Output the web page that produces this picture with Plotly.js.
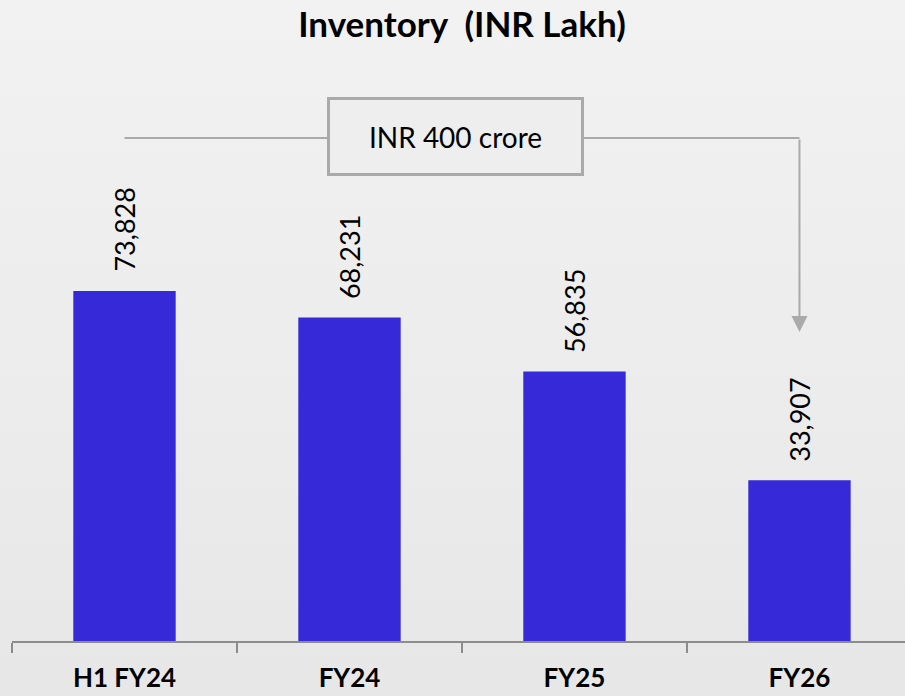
<!DOCTYPE html>
<html>
<head>
<meta charset="utf-8">
<script src="https://cdn.plot.ly/plotly-3.0.1.min.js"></script>
<style>html,body{margin:0;padding:0;background:#ececec;}#chart{width:905px;height:696px;}</style>
</head>
<body>
<div id="chart"></div>
<script>
const categories = ["H1 FY24", "FY24", "FY25", "FY26"];
const inventory = [73828, 68231, 56835, 33907];
const valueLabels = ["73,828", "68,231", "56,835", "33,907"];
const chartTitle = "Inventory  (INR Lakh)";
const calloutText = "INR 400 crore";
const calloutLevel = 106100;
const arrowTipLevel = 65200;

const barColor = "#3529d8";
const lineColor = "#aaaaaa";
const fontFam = "Lato, 'Open Sans', sans-serif";

const W = 905, H = 696;
const M = {l: 12, r: 0, t: 40, b: 55};
const plotW = W - M.l - M.r, plotH = H - M.t - M.b;

const bgSvg = '<svg xmlns="http://www.w3.org/2000/svg" width="100" height="100" viewBox="0 0 100 100" preserveAspectRatio="none">' +
  '<defs><linearGradient id="g" x1="0" y1="0" x2="0" y2="1">' +
  '<stop offset="0" stop-color="#f2f2f2"/><stop offset="1" stop-color="#e7e7e7"/></linearGradient></defs>' +
  '<rect width="100" height="100" fill="url(#g)"/></svg>';
const bgSrc = "data:image/svg+xml;charset=utf-8," + encodeURIComponent(bgSvg);

const trace = {
  type: "bar",
  x: categories,
  y: inventory,
  marker: {color: barColor},
  width: 0.455,
  hoverinfo: "skip"
};

const valueAnnotations = categories.map((c, i) => ({
  x: c, y: inventory[i], xref: "x", yref: "y",
  text: valueLabels[i], showarrow: false, textangle: -90,
  yanchor: "bottom", xanchor: "center", yshift: 17,
  font: {family: fontFam, size: 27, color: "#000"}
}));

const layout = {
  width: W, height: H,
  paper_bgcolor: "#ececec", plot_bgcolor: "rgba(0,0,0,0)",
  margin: M,
  showlegend: false,
  title: {text: "<b>" + chartTitle + "</b>", x: 462 / W, xanchor: "center", y: 1 - 25 / H, yanchor: "middle",
          font: {family: fontFam, size: 35, color: "#000"}},
  images: [{
    source: bgSrc, xref: "paper", yref: "paper",
    x: -M.l / plotW, y: 1 + M.t / plotH, sizex: W / plotW, sizey: H / plotH,
    xanchor: "left", yanchor: "top", sizing: "stretch", layer: "below"
  }],
  xaxis: {
    type: "category", range: [-0.5, 3.469], fixedrange: true,
    showline: true, linecolor: "#8c8c8c", linewidth: 2,
    ticks: "outside", tickson: "boundaries", ticklen: 10, tickwidth: 2, tickcolor: "#8c8c8c",
    showgrid: false, zeroline: false,
    tickfont: {family: fontFam, size: 26, color: "#000", weight: "bold"},
    ticklabelstandoff: 13
  },
  yaxis: {range: [0, 126800], visible: false, showgrid: false, zeroline: false, fixedrange: true},
  shapes: [
    {type: "line", xref: "x", yref: "y", x0: 0, x1: 3, y0: calloutLevel, y1: calloutLevel,
     line: {color: lineColor, width: 2}}
  ],
  annotations: valueAnnotations.concat([
    {x: 3, y: arrowTipLevel, xref: "x", yref: "y", ax: 3, ay: calloutLevel, axref: "x", ayref: "y",
     text: "", showarrow: true, arrowhead: 2, arrowsize: 1.6, arrowwidth: 2, arrowcolor: lineColor, standoff: 0},
    {x: 1.469, y: calloutLevel, xref: "x", yref: "y", yshift: 2, text: calloutText, showarrow: false,
     width: 249, height: 71, bgcolor: "#eeeeee", bordercolor: lineColor, borderwidth: 3,
     font: {family: fontFam, size: 28, color: "#000"}}
  ])
};

Plotly.newPlot("chart", [trace], layout, {displayModeBar: false, staticPlot: true});
</script>
</body>
</html>
